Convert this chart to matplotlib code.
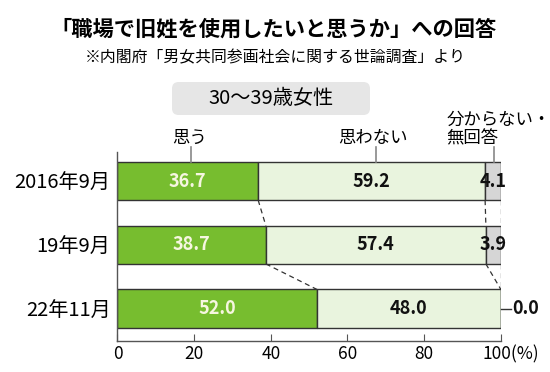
import matplotlib
matplotlib.use("Agg")
import matplotlib.pyplot as plt
from matplotlib.patches import FancyBboxPatch

plt.rcParams["font.family"] = ["Noto Sans CJK JP", "DejaVu Sans"]

categories = ["2016年9月", "19年9月", "22年11月"]
yes = [36.7, 38.7, 52.0]
no = [59.2, 57.4, 48.0]
unknown = [4.1, 3.9, 0.0]
ticks = [0, 20, 40, 60, 80, 100]

green = "#77bd2f"
light = "#e9f4de"
gray = "#d6d6d6"
edge = "#333333"

fig = plt.figure(figsize=(5.5, 3.72), dpi=100)
ax = fig.add_axes([0.2136, 0.0833, 0.697, 0.508])

ypos = [2, 1, 0]
h = 0.6
left2 = [a + b for a, b in zip(yes, no)]
ax.barh(ypos, yes, height=h, color=green, edgecolor=edge, linewidth=1)
ax.barh(ypos, no, left=yes, height=h, color=light, edgecolor=edge, linewidth=1)
ax.barh(ypos, unknown, left=left2, height=h, color=gray, edgecolor=edge, linewidth=1)

# dashed connectors between rows
for i in range(len(ypos) - 1):
    b0 = [yes[i], left2[i], left2[i] + unknown[i]]
    b1 = [yes[i + 1], left2[i + 1], left2[i + 1] + unknown[i + 1]]
    for x0, x1 in zip(b0, b1):
        ax.plot([x0, x1], [ypos[i] - h / 2, ypos[i + 1] + h / 2], ls=(0, (4, 3)),
                color=edge, lw=0.9)

# value labels
for i, y in enumerate(ypos):
    ax.text(yes[i] / 2, y, f"{yes[i]:.1f}", ha="center", va="center",
            fontsize=13, fontweight="bold", color="#f6f6e0")
    ax.text(yes[i] + no[i] / 2, y, f"{no[i]:.1f}", ha="center", va="center",
            fontsize=13, fontweight="bold", color="#111111")
    if unknown[i] > 0:
        ax.text(left2[i] + unknown[i] / 2, y, f"{unknown[i]:.1f}", ha="center",
                va="center", fontsize=13, fontweight="bold", color="#111111")
    else:
        ax.plot([100, 102.7], [y, y], color=edge, lw=1, clip_on=False)
        ax.text(103.1, y, f"{unknown[i]:.1f}", ha="left", va="center",
                fontsize=13, fontweight="bold", color="#111111", clip_on=False)

# series labels above the top bar
top = ypos[0] + h / 2
ax.text(18.9, 2.67, "思う", ha="center", va="center", fontsize=12.5)
ax.text(66.6, 2.67, "思わない", ha="center", va="center", fontsize=12.5)
ax.text(85.8, 2.82, "分からない・\n無回答", ha="left", va="center", fontsize=12.5,
        linespacing=1.05)
for x in [19.1, 67.4, 98.2]:
    ax.plot([x, x], [2.53, top], color="#888888", lw=1.2, clip_on=False)

ax.set_xlim(0, 100)
ax.set_ylim(-0.51, 2.455)
ax.set_yticks(ypos)
ax.set_yticklabels(categories, fontsize=14.5)
ax.tick_params(axis="y", length=0, pad=5)
ax.set_xticks(ticks)
ax.set_xticklabels([str(t) for t in ticks[:-1]] + [""], fontsize=12.5)
ax.tick_params(axis="x", direction="in", length=5, color="#555555", pad=3)
ax.annotate("100(%)", xy=(100, 0), xycoords=("data", "axes fraction"),
            xytext=(-13.5, -3), textcoords="offset points", ha="left", va="top",
            fontsize=12.5)
for s in ["top", "right"]:
    ax.spines[s].set_visible(False)
for s in ["left", "bottom"]:
    ax.spines[s].set_color("#555555")
    ax.spines[s].set_linewidth(1)

# titles
fig.text(0.497, 0.922, "「職場で旧姓を使用したいと思うか」への回答", ha="center",
         va="center", fontsize=15.3, fontweight="bold")
fig.text(0.5, 0.845, "※内閣府「男女共同参画社会に関する世論調査」より", ha="center",
         va="center", fontsize=11.4)

box = FancyBboxPatch((172 / 550, 1 - 115 / 372), 198 / 550, 33 / 372,
                     boxstyle="round,pad=0,rounding_size=0.012",
                     mutation_aspect=550 / 372, transform=fig.transFigure,
                     facecolor="#e6e6e6", edgecolor="none")
fig.patches.append(box)
fig.text(271 / 550, 1 - 98.5 / 372, "30〜39歳女性", ha="center", va="center",
         fontsize=14.5)

fig.savefig("out.png", dpi=100)
